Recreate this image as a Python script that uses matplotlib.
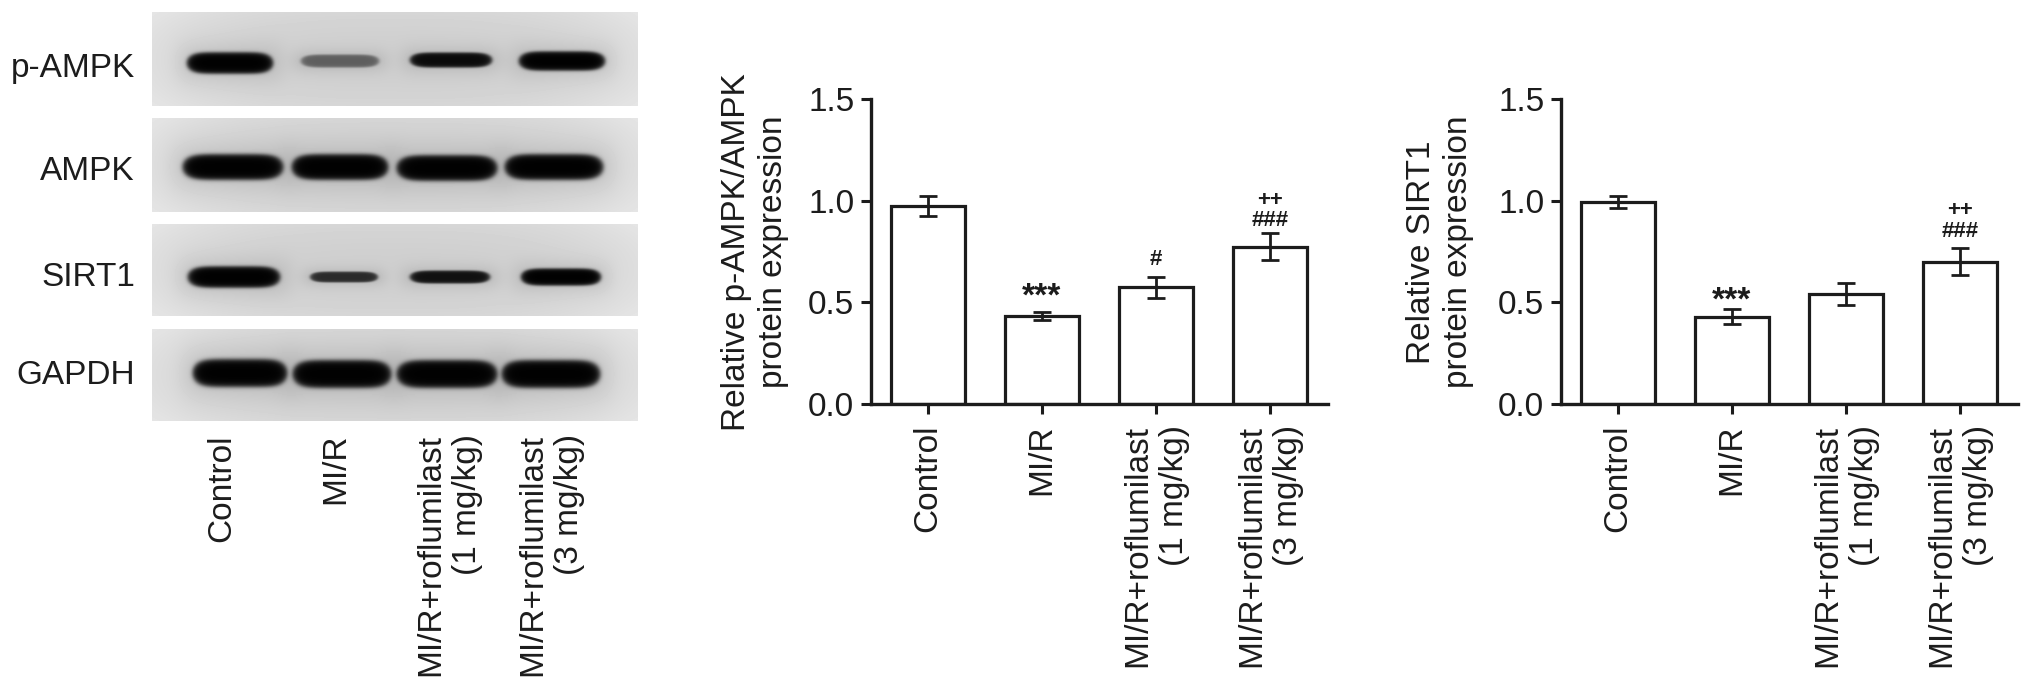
import numpy as np
import matplotlib
matplotlib.use("Agg")
import matplotlib.pyplot as plt

plt.rcParams['font.family'] = ['Liberation Sans', 'DejaVu Sans']

W, H = 2032, 692
INK = '#1c1c1c'
FS = 24

groups = ['Control', 'MI/R', 'MI/R+roflumilast\n(1 mg/kg)', 'MI/R+roflumilast\n(3 mg/kg)']

ampk_vals = [0.973, 0.432, 0.573, 0.773]
ampk_errs = [0.048, 0.02, 0.05, 0.066]
ampk_marks = [[], ['***'], ['#'], ['###', '++']]

sirt_vals = [0.995, 0.428, 0.54, 0.70]
sirt_errs = [0.03, 0.037, 0.055, 0.065]
sirt_marks = [[], ['***'], [], ['###', '++']]

yticks = [0.0, 0.5, 1.0, 1.5]

blot_names = ['p-AMPK', 'AMPK', 'SIRT1', 'GAPDH']
blot_rows = [(12, 106), (118, 212), (224, 316), (329, 421)]
blot_label_y = [68, 171, 278, 376]
# Band centre x, half width, centre y, half height, darkness (0-1)
band_x = [[230, 340, 451, 562], [233, 340, 447, 554], [234, 344, 450, 561], [240, 342, 447, 551]]
band_hw = [[42, 38, 40, 42], [49, 47, 49, 48], [45, 33, 39, 39], [46, 48, 49, 48]]
band_y = [[63, 61, 60, 61], [167, 167, 168, 167], [277, 277, 277, 277], [373, 374, 374, 374]]
band_hh = [[10, 6, 7, 9], [12, 12, 12, 12], [10, 5, 6, 8], [13, 13, 13, 13]]
band_dark = [[1.0, 0.5, 0.95, 1.0], [1.0, 1.0, 1.0, 1.0], [1.0, 0.78, 0.92, 1.0], [1.0, 1.0, 1.0, 1.0]]
BLOT_X = (152, 638)

fig = plt.figure(figsize=(W / 100, H / 100), dpi=100, facecolor='white')

canvas = fig.add_axes([0, 0, 1, 1], zorder=0)
canvas.axis('off')

for r, (y0, y1) in enumerate(blot_rows):
    xs = np.arange(BLOT_X[0], BLOT_X[1]) + 0.5
    ys = np.arange(y0, y1) + 0.5
    X, Y = np.meshgrid(xs, ys)
    u = (X - BLOT_X[0]) / (BLOT_X[1] - BLOT_X[0])
    v = (Y - y0) / (y1 - y0)
    img = 0.81 + 0.06 * np.abs(2 * u - 1) ** 3 + 0.03 * np.abs(2 * v - 1) ** 2
    for cx, hw, cy, hh, d in zip(band_x[r], band_hw[r], band_y[r], band_hh[r], band_dark[r]):
        q = (np.abs(X - cx) / hw) ** 6 + (np.abs(Y - cy) / hh) ** 2
        core = 1 / (1 + np.exp((q - 1.1) * 4.5))
        halo = np.exp(-q / 4.0) * 0.10
        img = img * (1 - d * core) * (1 - halo)
    canvas.imshow(img, cmap='gray', vmin=0, vmax=1, aspect='auto', interpolation='bilinear',
                  extent=(BLOT_X[0], BLOT_X[1], y1, y0))
    canvas.text(135, blot_label_y[r], blot_names[r], ha='right', va='center', fontsize=FS, color=INK)
canvas.set_xlim(0, W)
canvas.set_ylim(H, 0)

blot_lab_x = [222, 336, 449, 551]
for x, g in zip(blot_lab_x, groups):
    canvas.text(x, 434, g, rotation=90, ha='center', va='top', multialignment='right',
                fontsize=FS, color=INK, linespacing=1.26)


def panel(left, right, first, step, vals, errs, marks, gaps, ylabel, ylab_x):
    top, bottom = 99, 404
    ax = fig.add_axes([left / W, 1 - bottom / H, (right - left) / W, (bottom - top) / H], zorder=1)
    ax.patch.set_alpha(0)
    x = np.arange(len(vals))
    ax.bar(x, vals, width=74 / step, facecolor='white', edgecolor=INK, linewidth=2.3, zorder=2)
    ax.errorbar(x, vals, yerr=errs, fmt='none', ecolor=INK, elinewidth=2.0, capsize=6.8, capthick=2.0, zorder=3)
    ax.set_xlim((left - first) / step, (right - first) / step)
    ax.set_ylim(0, 1.5)
    ax.set_yticks(yticks)
    ax.set_yticklabels([f'{t:.1f}' for t in yticks], fontsize=FS, color=INK)
    ax.set_xticks(x)
    ax.set_xticklabels(groups, rotation=90, ha='center', va='top', multialignment='right',
                       fontsize=FS, color=INK, linespacing=1.26)
    ax.tick_params(axis='both', width=2.2, length=7, color=INK)
    ax.tick_params(axis='x', pad=8)
    ax.tick_params(axis='y', pad=5)
    for s in ('top', 'right'):
        ax.spines[s].set_visible(False)
    for s in ('left', 'bottom'):
        ax.spines[s].set_linewidth(2.4)
        ax.spines[s].set_color(INK)
    for i, ms in enumerate(marks):
        for m in ms:
            size = {'***': 24, '++': 16}.get(m, 16)
            ax.annotate(m, (i, vals[i] + errs[i]), xytext=(0, gaps[m]), textcoords='offset points',
                        ha='center', va='center', fontsize=size, fontweight='bold', color=INK)
    canvas.text(ylab_x, 252, ylabel, rotation=90, ha='center', va='center',
                fontsize=FS, color=INK, linespacing=1.26, multialignment='center')
    return ax


panel(871, 1328, 928, 114, ampk_vals, ampk_errs, ampk_marks,
      {'***': 11, '#': 13, '###': 9, '++': 24},
      'Relative p-AMPK/AMPK\nprotein expression', 755)
panel(1561, 2018, 1618, 114, sirt_vals, sirt_errs, sirt_marks,
      {'***': 6, '###': 12, '++': 27},
      'Relative SIRT1\nprotein expression', 1440)

fig.savefig('out.png', dpi=100, facecolor='white')
